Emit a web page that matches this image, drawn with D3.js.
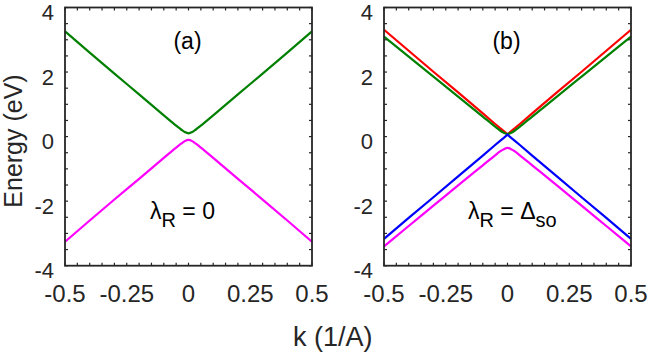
<!DOCTYPE html>
<html>
<head>
<meta charset="utf-8">
<script src="https://cdn.jsdelivr.net/npm/d3@7/dist/d3.min.js"></script>
<style>
  body { margin: 0; background: #fff; }
  text { font-family: "Liberation Sans", Arial, Helvetica, sans-serif; fill: #262626; }
</style>
</head>
<body>
<svg id="chart" width="648" height="353"></svg>
<script>
const kVals = [-0.5, -0.4, -0.3, -0.2, -0.1, -0.05, -0.03, -0.015, 0, 0.015, 0.03, 0.05, 0.1, 0.2, 0.3, 0.4, 0.5];

// panel (a): lambda_R = 0
const aGreen   = [3.26, 2.6, 1.95, 1.31, 0.66, 0.34, 0.22, 0.14, 0.1, 0.14, 0.22, 0.34, 0.66, 1.31, 1.95, 2.6, 3.26];
const aMagenta = [-3.26, -2.6, -1.95, -1.31, -0.66, -0.34, -0.22, -0.14, -0.1, -0.14, -0.22, -0.34, -0.66, -1.31, -1.95, -2.6, -3.26];

// panel (b): lambda_R = Delta_so
const bRed     = [3.31, 2.66, 2.01, 1.37, 0.72, 0.39, 0.26, 0.17, 0.07, 0.17, 0.26, 0.39, 0.72, 1.37, 2.01, 2.66, 3.31];
const bGreen   = [3.1, 2.48, 1.86, 1.24, 0.62, 0.31, 0.19, 0.12, 0.08, 0.12, 0.19, 0.31, 0.62, 1.24, 1.86, 2.48, 3.1];
const bBlue    = [-3.17, -2.52, -1.88, -1.23, -0.59, -0.26, -0.13, -0.04, 0.06, -0.04, -0.13, -0.26, -0.59, -1.23, -1.88, -2.52, -3.17];
const bMagenta = [-3.4, -2.77, -2.14, -1.51, -0.89, -0.58, -0.46, -0.39, -0.35, -0.39, -0.46, -0.58, -0.89, -1.51, -2.14, -2.77, -3.4];

const xTicks = [-0.5, -0.25, 0, 0.25, 0.5];
const xTickLabels = ["-0.5", "-0.25", "0", "0.25", "0.5"];
const yTicks = [-4, -2, 0, 2, 4];

const panels = [
  { left: 65, tag: "(a)", lam: "0",
    series: [{ v: aGreen, c: "#008000", smooth: true }, { v: aMagenta, c: "#ff00ff", smooth: true }] },
  { left: 384, tag: "(b)", lam: "delta",
    series: [{ v: bRed, c: "#ff0000", smooth: false }, { v: bGreen, c: "#008000", smooth: true },
             { v: bBlue, c: "#0000ff", smooth: false }, { v: bMagenta, c: "#ff00ff", smooth: true }] }
];

const svg = d3.select("#chart");
const plotTop = 7.5, plotBottom = 265.7, pw = 247;
const axisCol = "#262626";

panels.forEach(function (p) {
  const x = d3.scaleLinear().domain([-0.5, 0.5]).range([p.left, p.left + pw]);
  const y = d3.scaleLinear().domain([-4, 4]).range([plotBottom, plotTop]);
  const g = svg.append("g");

  // curves
  p.series.forEach(function (s) {
    const line = d3.line()
      .x(function (d, i) { return x(kVals[i]); })
      .y(function (d) { return y(d); })
      .curve(s.smooth ? d3.curveMonotoneX : d3.curveLinear);
    g.append("path").datum(s.v)
      .attr("d", line)
      .attr("fill", "none")
      .attr("stroke", s.c)
      .attr("stroke-width", 2.2);
  });

  // ticks inside on all sides
  const tl = 3;
  const xMinor = d3.range(-0.5, 0.5001, 0.05);
  const yMinor = d3.range(-4, 4.001, 0.5);
  xMinor.forEach(function (t) {
    g.append("line").attr("x1", x(t)).attr("x2", x(t)).attr("y1", plotBottom).attr("y2", plotBottom - tl)
      .attr("stroke", axisCol).attr("stroke-width", 1.2);
    g.append("line").attr("x1", x(t)).attr("x2", x(t)).attr("y1", plotTop).attr("y2", plotTop + tl)
      .attr("stroke", axisCol).attr("stroke-width", 1.2);
  });
  yMinor.forEach(function (t) {
    g.append("line").attr("y1", y(t)).attr("y2", y(t)).attr("x1", p.left).attr("x2", p.left + tl)
      .attr("stroke", axisCol).attr("stroke-width", 1.2);
    g.append("line").attr("y1", y(t)).attr("y2", y(t)).attr("x1", p.left + pw).attr("x2", p.left + pw - tl)
      .attr("stroke", axisCol).attr("stroke-width", 1.2);
  });

  // box
  g.append("rect").attr("x", p.left).attr("y", plotTop).attr("width", pw).attr("height", plotBottom - plotTop)
    .attr("fill", "none").attr("stroke", axisCol).attr("stroke-width", 1.8);

  // tick labels
  xTicks.forEach(function (t, i) {
    g.append("text").attr("x", x(t)).attr("y", 302)
      .attr("text-anchor", "middle").attr("font-size", 24)
      .text(xTickLabels[i]);
  });
  yTicks.forEach(function (t) {
    g.append("text").attr("x", p.left - 11).attr("y", y(t) + 12.5)
      .attr("text-anchor", "end").attr("font-size", 22)
      .text(t);
  });

  // panel tag
  g.append("text").attr("x", x(0) - 1).attr("y", 49).attr("text-anchor", "middle")
    .attr("font-size", 23).style("fill", "#000").text(p.tag);

  // lambda label
  const lab = g.append("text").attr("x", p.lam === "0" ? 150 : 468).attr("y", 219)
    .attr("font-size", 23).style("fill", "#000");
  lab.append("tspan").text("λ");
  lab.append("tspan").attr("dy", 8).attr("font-size", 20).text("R");
  if (p.lam === "0") {
    lab.append("tspan").attr("dy", -8).text(" = 0");
  } else {
    lab.append("tspan").attr("dy", -8).text(" = Δ");
    lab.append("tspan").attr("dy", 8).attr("font-size", 20).text("so");
  }
});

// axis titles
svg.append("text").attr("x", 293).attr("y", 346).attr("font-size", 27).text("k (1/A)");
svg.append("text").attr("transform", "translate(22,141) rotate(-90)")
  .attr("text-anchor", "middle").attr("font-size", 25).text("Energy (eV)");
</script>
</body>
</html>
